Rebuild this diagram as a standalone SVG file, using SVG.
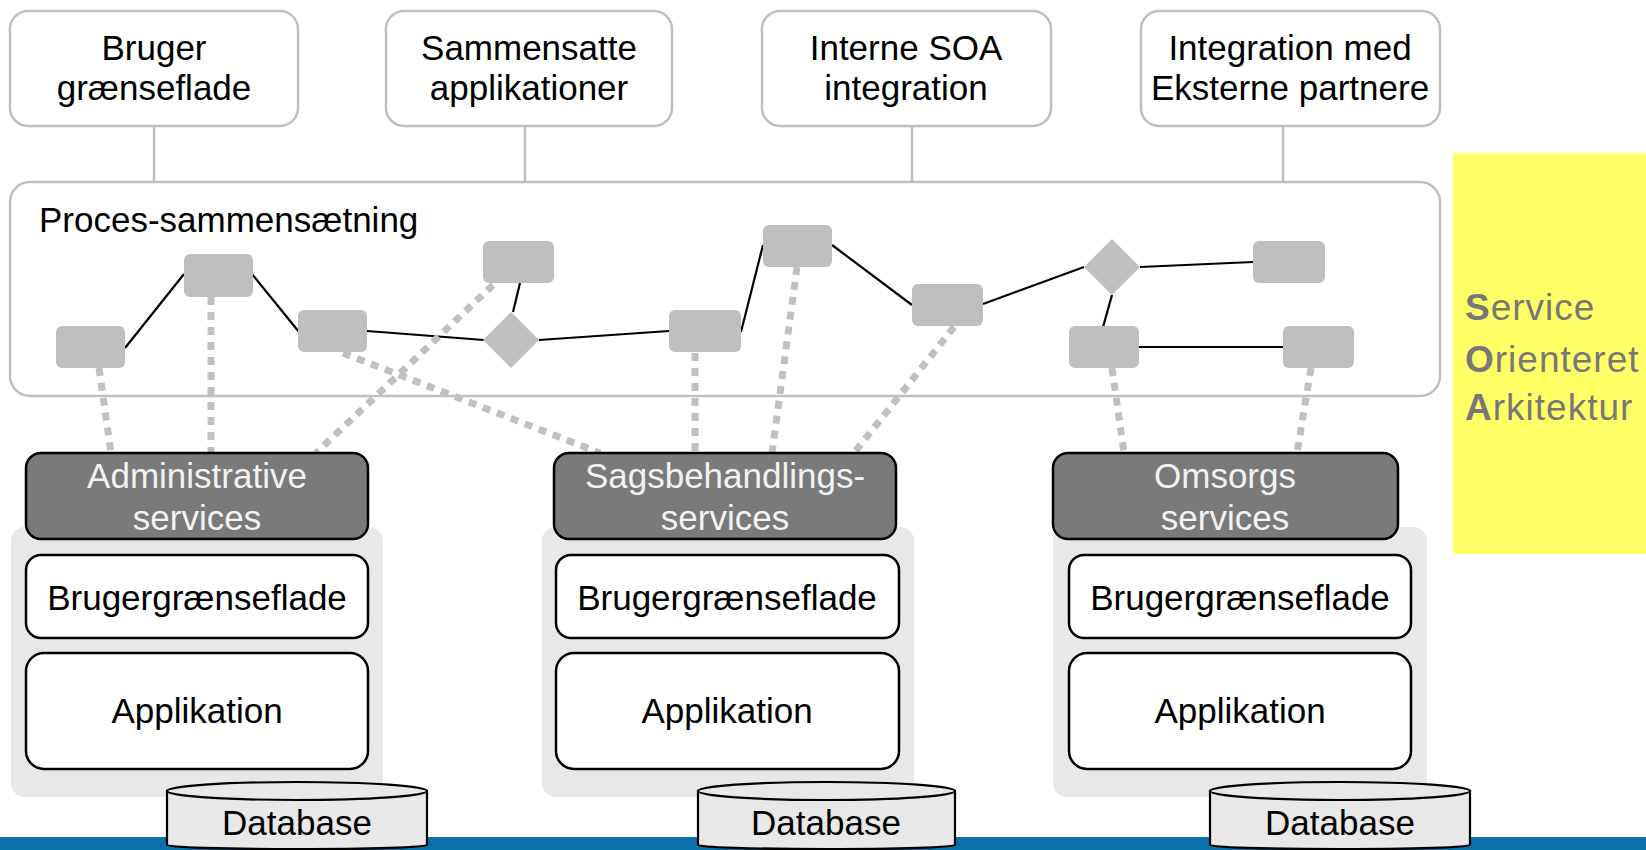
<svg xmlns="http://www.w3.org/2000/svg" width="1646" height="850" viewBox="0 0 1646 850">
<style>
text{font-family:"Liberation Sans",Arial,sans-serif;font-size:35px;fill:#000}
.c{text-anchor:middle}
.top{fill:#fff;stroke:#bfbfbf;stroke-width:2.5}
.proc{fill:#fff;stroke:#bfbfbf;stroke-width:2.5}
.task{fill:#bfbfbf}
.glink{stroke:#bfbfbf;stroke-width:2.5;fill:none}
.flow{stroke:#000;stroke-width:2.2;fill:none}
.dot{stroke:#c0c0c0;stroke-width:7;stroke-dasharray:8 7;fill:none}
.panel{fill:#e8e8e8}
.svc{fill:#7a7a7a;stroke:#000;stroke-width:2.5}
.svct{fill:#f2f2f2}
.layer{fill:#fff;stroke:#000;stroke-width:2.5}
.db{fill:#e8e8e8;stroke:#000;stroke-width:2.2}
.soa{font-size:37px;fill:#777;letter-spacing:1px}
</style>
<rect x="0" y="0" width="1646" height="850" fill="#fff"/>
<rect id="yellow" x="1453" y="153" width="193" height="401" fill="#ffff66"/>
<g id="soa-label">
<text class="soa" x="1465" y="320"><tspan font-weight="bold">S</tspan>ervice</text>
<text class="soa" x="1465" y="372"><tspan font-weight="bold">O</tspan>rienteret</text>
<text class="soa" x="1465" y="420"><tspan font-weight="bold">A</tspan>rkitektur</text>
</g>
<g id="connectors">
<line class="glink" x1="154" y1="126" x2="154" y2="182"/>
<line class="glink" x1="525" y1="126" x2="525" y2="182"/>
<line class="glink" x1="912" y1="126" x2="912" y2="182"/>
<line class="glink" x1="1283" y1="126" x2="1283" y2="182"/>
</g>
<g id="proces">
<rect class="proc" x="10" y="182" width="1430" height="214" rx="20"/>
<text x="39" y="232">Proces-sammensætning</text>
</g>
<g id="top1"><rect class="top" x="10" y="11" width="288" height="115" rx="18"/><text class="c" x="154" y="60">Bruger</text><text class="c" x="154" y="100">grænseflade</text></g>
<g id="top2"><rect class="top" x="386" y="11" width="286" height="115" rx="18"/><text class="c" x="529" y="60">Sammensatte</text><text class="c" x="529" y="100">applikationer</text></g>
<g id="top3"><rect class="top" x="762" y="11" width="289" height="115" rx="18"/><text class="c" x="906" y="60">Interne SOA</text><text class="c" x="906" y="100">integration</text></g>
<g id="top4"><rect class="top" x="1141" y="11" width="299" height="115" rx="18"/><text class="c" x="1290" y="60">Integration med</text><text class="c" x="1290" y="100">Eksterne partnere</text></g>
<g id="flow-connectors">
<line class="flow" x1="125" y1="348" x2="184" y2="274"/>
<line class="flow" x1="252" y1="274" x2="299" y2="332"/>
<line class="flow" x1="367" y1="331" x2="484" y2="340"/>
<line class="flow" x1="520" y1="283" x2="513" y2="312"/>
<line class="flow" x1="539" y1="340" x2="669" y2="331"/>
<line class="flow" x1="741" y1="332" x2="763" y2="245"/>
<line class="flow" x1="832" y1="245" x2="912" y2="305"/>
<line class="flow" x1="983" y1="304" x2="1084" y2="267"/>
<line class="flow" x1="1140" y1="267" x2="1253" y2="262"/>
<line class="flow" x1="1112" y1="295" x2="1103" y2="327"/>
<line class="flow" x1="1139" y1="347" x2="1283" y2="347"/>
</g>
<g id="tasks">
<rect id="t1" class="task" x="56" y="326" width="69" height="42" rx="6"/>
<rect id="t2" class="task" x="184" y="254" width="69" height="43" rx="6"/>
<rect id="t3" class="task" x="298" y="310" width="69" height="42" rx="6"/>
<rect id="t4" class="task" x="483" y="241" width="71" height="42" rx="6"/>
<rect id="t5" class="task" x="669" y="310" width="72" height="42" rx="6"/>
<rect id="t6" class="task" x="763" y="225" width="69" height="42" rx="6"/>
<rect id="t7" class="task" x="912" y="284" width="71" height="42" rx="6"/>
<rect id="t8" class="task" x="1069" y="326" width="70" height="42" rx="6"/>
<rect id="t9" class="task" x="1253" y="241" width="72" height="42" rx="6"/>
<rect id="t10" class="task" x="1283" y="326" width="71" height="42" rx="6"/>
<polygon id="g1" class="task" points="511,312 539,340 511,368 483,340"/>
<polygon id="g2" class="task" points="1112,239 1140,267 1112,295 1084,267"/>
</g>
<g id="service-links">
<line class="dot" x1="99" y1="368" x2="111" y2="453"/>
<line class="dot" x1="211" y1="297" x2="211" y2="453"/>
<line class="dot" x1="493" y1="285" x2="316" y2="453"/>
<line class="dot" x1="343" y1="353" x2="600" y2="453"/>
<line class="dot" x1="695" y1="353" x2="695" y2="453"/>
<line class="dot" x1="797" y1="267" x2="772" y2="453"/>
<line class="dot" x1="954" y1="327" x2="854" y2="453"/>
<line class="dot" x1="1112" y1="368" x2="1124" y2="453"/>
<line class="dot" x1="1311" y1="368" x2="1297" y2="453"/>
</g>
<rect id="bar" x="0" y="837" width="1646" height="13" fill="#0a72a6"/>
<g id="col1">
<rect class="panel" x="11" y="527" width="372" height="270" rx="14"/>
<rect class="svc" x="26" y="453" width="342" height="86" rx="15"/>
<text class="c svct" x="197" y="488">Administrative</text><text class="c svct" x="197" y="530">services</text>
<rect class="layer" x="26" y="555" width="342" height="83" rx="15"/><text class="c" x="197" y="610">Brugergrænseflade</text>
<rect class="layer" x="26" y="653" width="342" height="116" rx="18"/><text class="c" x="197" y="723">Applikation</text>
<path class="db" d="M167,791 L167,845 A130,4 0 0 0 427,845 L427,791 Z"/><ellipse class="db" cx="297" cy="791" rx="130" ry="9"/>
<text class="c" x="297" y="835">Database</text>
</g>
<g id="col2">
<rect class="panel" x="542" y="527" width="372" height="270" rx="14"/>
<rect class="svc" x="554" y="453" width="342" height="86" rx="15"/>
<text class="c svct" x="725" y="488">Sagsbehandlings-</text><text class="c svct" x="725" y="530">services</text>
<rect class="layer" x="556" y="555" width="343" height="83" rx="15"/><text class="c" x="727" y="610">Brugergrænseflade</text>
<rect class="layer" x="556" y="653" width="343" height="116" rx="18"/><text class="c" x="727" y="723">Applikation</text>
<path class="db" d="M698,791 L698,845 A128.5,4 0 0 0 955,845 L955,791 Z"/><ellipse class="db" cx="826.5" cy="791" rx="128.5" ry="9"/>
<text class="c" x="826" y="835">Database</text>
</g>
<g id="col3">
<rect class="panel" x="1053" y="527" width="374" height="270" rx="14"/>
<rect class="svc" x="1053" y="453" width="345" height="86" rx="15"/>
<text class="c svct" x="1225" y="488">Omsorgs</text><text class="c svct" x="1225" y="530">services</text>
<rect class="layer" x="1069" y="555" width="342" height="83" rx="15"/><text class="c" x="1240" y="610">Brugergrænseflade</text>
<rect class="layer" x="1069" y="653" width="342" height="116" rx="18"/><text class="c" x="1240" y="723">Applikation</text>
<path class="db" d="M1210,791 L1210,845 A130,4 0 0 0 1470,845 L1470,791 Z"/><ellipse class="db" cx="1340" cy="791" rx="130" ry="9"/>
<text class="c" x="1340" y="835">Database</text>
</g>
</svg>
